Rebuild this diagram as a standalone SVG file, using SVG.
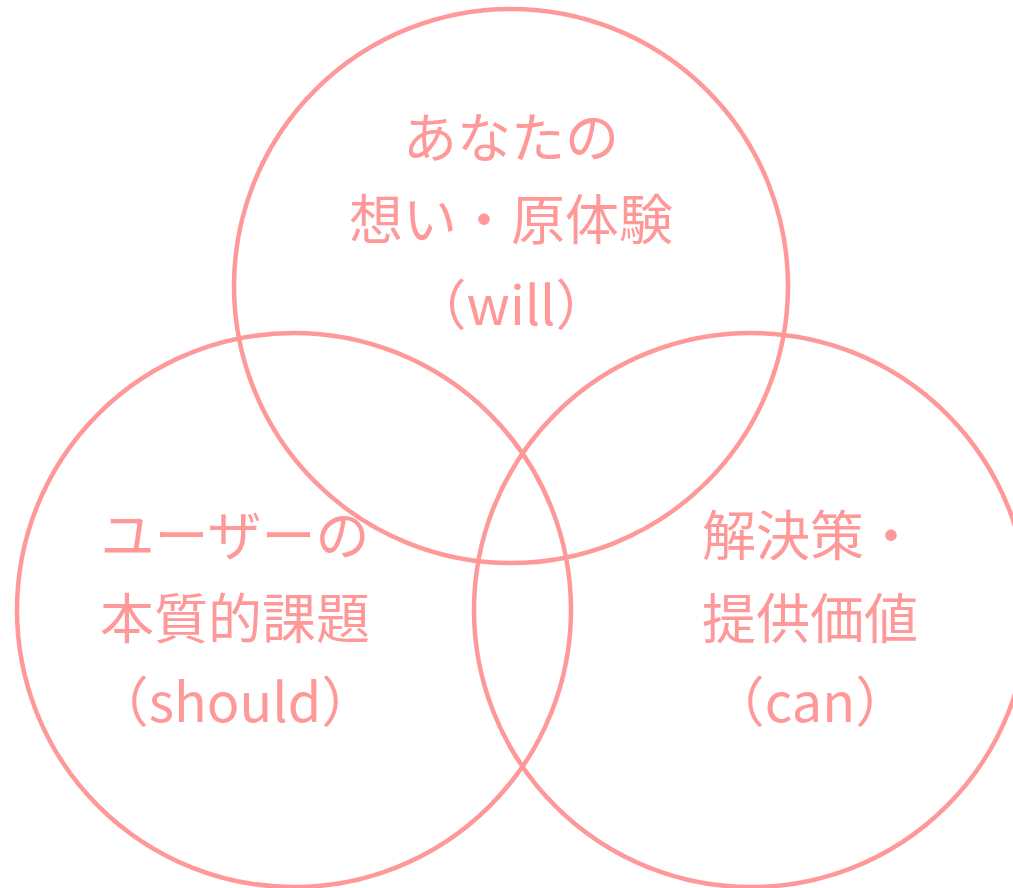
<svg xmlns="http://www.w3.org/2000/svg" width="1013" height="888" viewBox="0 0 1013 888">
<style>
.c{fill:none;stroke:#FF9999;stroke-width:4.5}
.t{font-family:"Noto Sans CJK JP","Noto Sans",sans-serif;font-size:54px;fill:#FF9999;text-anchor:middle}
</style>
<rect width="1013" height="888" fill="#ffffff"/>
<g id="will">
<circle class="c" cx="511" cy="286" r="277"/>
<text class="t" x="511" y="158">あなたの</text>
<text class="t" x="511" y="240">想い・原体験</text>
<text class="t" x="511" y="325">（will）</text>
</g>
<g id="should">
<circle class="c" cx="294" cy="610" r="277"/>
<text class="t" x="235" y="556">ユーザーの</text>
<text class="t" x="235" y="639">本質的課題</text>
<text class="t" x="235" y="722">（should）</text>
</g>
<g id="can">
<circle class="c" cx="751" cy="610" r="277"/>
<text class="t" x="810" y="556">解決策・</text>
<text class="t" x="810" y="639">提供価値</text>
<text class="t" x="810" y="722">（can）</text>
</g>
<g id="connectors"></g>
</svg>
